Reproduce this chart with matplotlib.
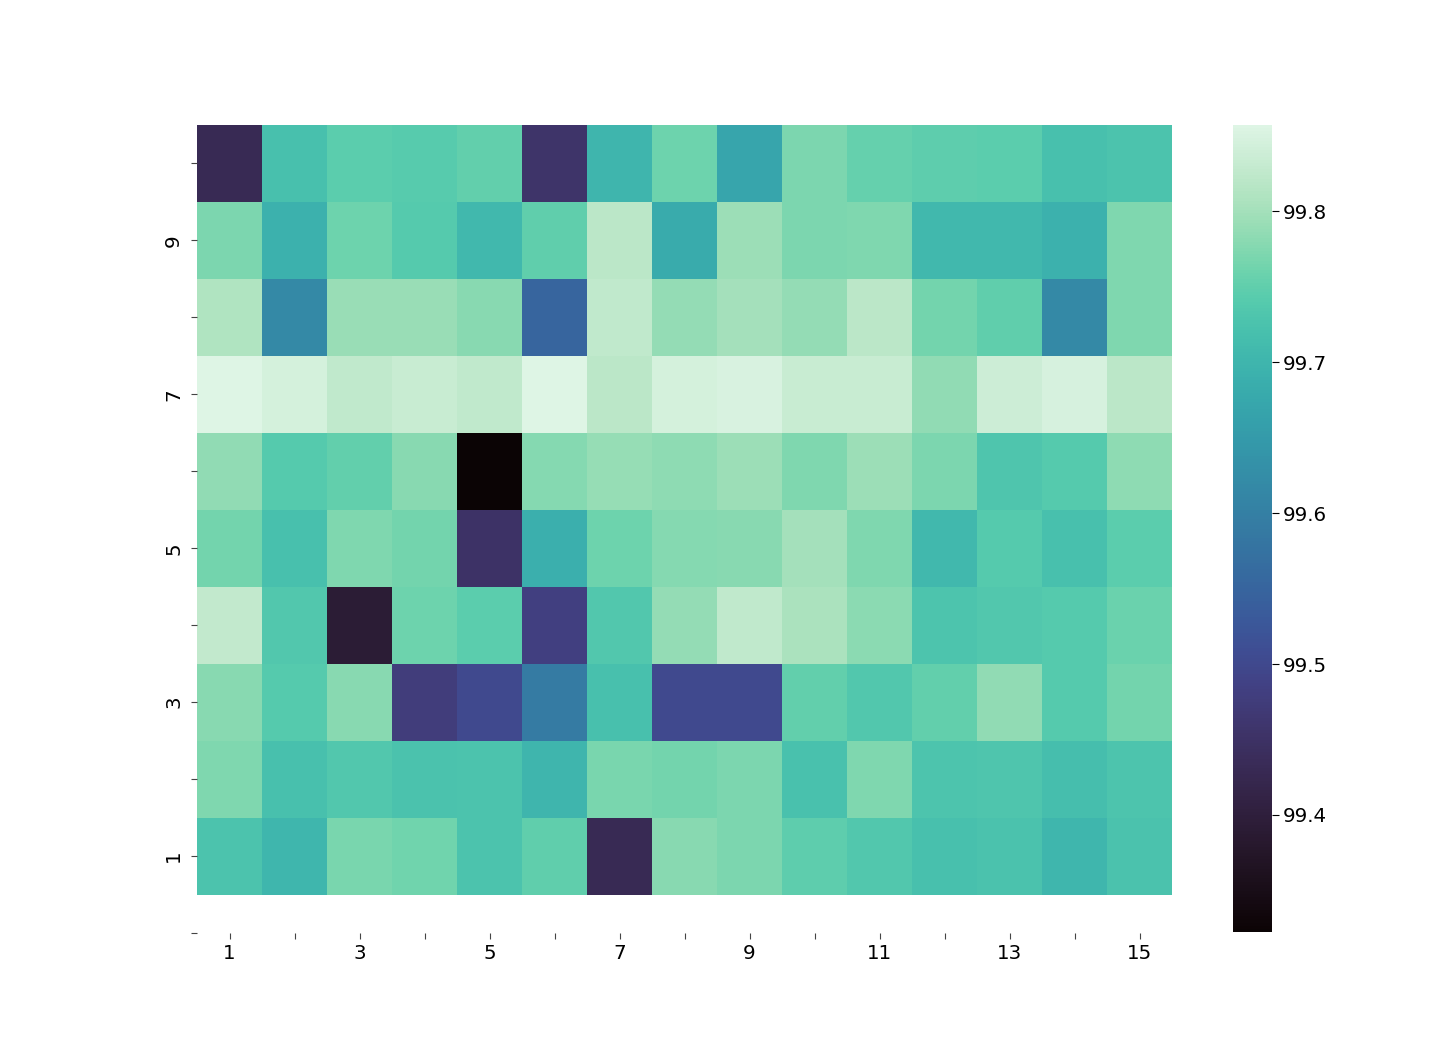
import numpy as np
import matplotlib
matplotlib.use('Agg')
import matplotlib.pyplot as plt
import seaborn as sns

# columnas y filas
cols = list(range(1, 16))
rows = list(range(1, 11))

# valores por fila (fila 1 abajo ... fila 10 arriba)
fila1 = [99.727, 99.702, 99.768, 99.762, 99.727, 99.750, 99.430, 99.778, 99.770, 99.748, 99.735, 99.720, 99.724, 99.702, 99.724]
fila2 = [99.772, 99.720, 99.735, 99.724, 99.727, 99.700, 99.768, 99.765, 99.770, 99.723, 99.772, 99.728, 99.730, 99.716, 99.728]
fila3 = [99.778, 99.740, 99.778, 99.475, 99.500, 99.590, 99.720, 99.500, 99.500, 99.752, 99.735, 99.752, 99.785, 99.740, 99.765]
fila4 = [99.827, 99.735, 99.390, 99.760, 99.745, 99.483, 99.735, 99.787, 99.825, 99.805, 99.780, 99.728, 99.735, 99.740, 99.757]
fila5 = [99.765, 99.721, 99.772, 99.765, 99.450, 99.688, 99.760, 99.777, 99.778, 99.800, 99.772, 99.706, 99.740, 99.721, 99.745]
fila6 = [99.785, 99.740, 99.752, 99.778, 99.3225, 99.777, 99.790, 99.783, 99.793, 99.772, 99.793, 99.770, 99.730, 99.740, 99.783]
fila7 = [99.857, 99.845, 99.825, 99.832, 99.825, 99.855, 99.820, 99.845, 99.850, 99.832, 99.832, 99.785, 99.838, 99.847, 99.820]
fila8 = [99.810, 99.617, 99.792, 99.792, 99.778, 99.552, 99.825, 99.788, 99.800, 99.788, 99.820, 99.765, 99.750, 99.617, 99.772]
fila9 = [99.770, 99.692, 99.760, 99.740, 99.706, 99.750, 99.820, 99.680, 99.793, 99.770, 99.772, 99.706, 99.706, 99.690, 99.772]
fila10 = [99.430, 99.721, 99.745, 99.742, 99.752, 99.455, 99.700, 99.760, 99.670, 99.770, 99.754, 99.748, 99.745, 99.721, 99.727]

datos = np.array([fila1, fila2, fila3, fila4, fila5, fila6, fila7, fila8, fila9, fila10])

plt.rcParams['font.size'] = 14.3

fig = plt.figure(figsize=(14.35, 10.48), dpi=100)
ax = fig.add_axes([197 / 1435, 115 / 1048, 975 / 1435, 808 / 1048])
cax = fig.add_axes([1233 / 1435, 116 / 1048, 39 / 1435, 807 / 1048])

x_bordes = np.arange(0.5, len(cols) + 1, 1)
y_bordes = np.arange(0.5, len(rows) + 1, 1)
malla = ax.pcolormesh(x_bordes, y_bordes, datos, cmap=sns.color_palette('mako', as_cmap=True))

ax.set_xlim(0.5, 15.5)
ax.set_ylim(0, 10.5)
for s in ax.spines.values():
    s.set_visible(False)

ax.set_xticks(cols)
ax.set_xticklabels([str(c) if c % 2 == 1 else '' for c in cols])
ax.set_yticks(range(0, 11))
ax.set_yticklabels([str(r) if r % 2 == 1 else '' for r in range(0, 11)], rotation=90, va='center')
ax.tick_params(axis='both', length=4, width=0.8, color='#444444')
ax.tick_params(axis='x', pad=4)
ax.tick_params(axis='y', pad=6)

cb = fig.colorbar(malla, cax=cax)
cb.outline.set_linewidth(0)
cb.set_ticks([99.4, 99.5, 99.6, 99.7, 99.8])
cb.ax.tick_params(length=5, width=0.8, pad=3)

fig.savefig('out.png', dpi=100)
